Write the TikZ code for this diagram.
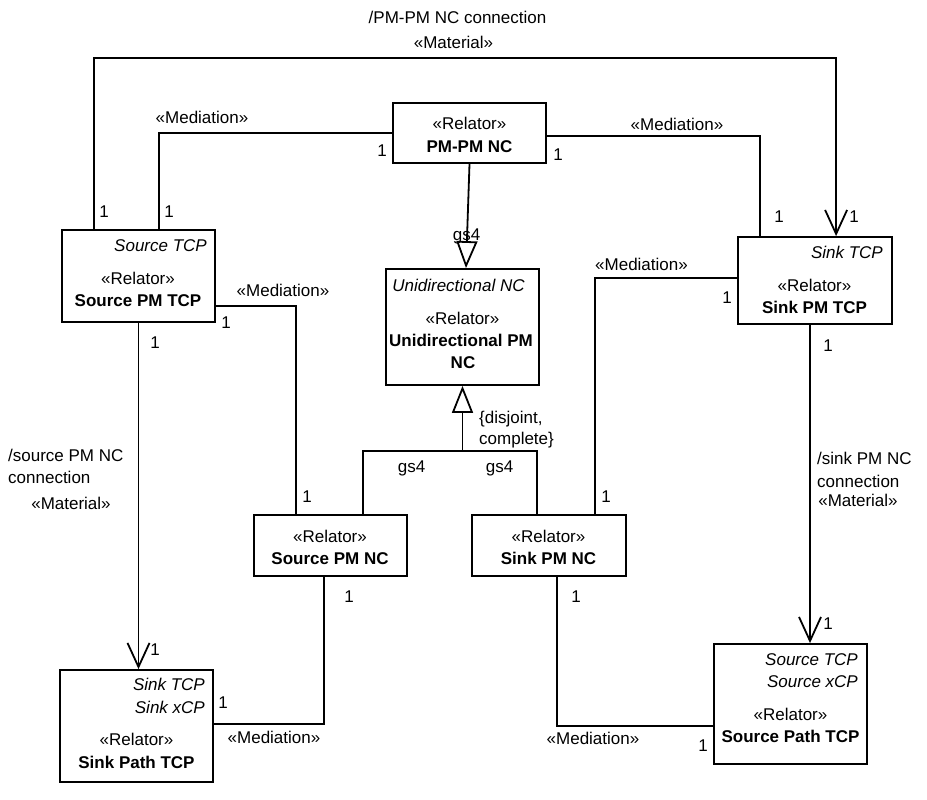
\documentclass[tikz,border=0pt]{standalone}
\usepackage{fontspec}
\setmainfont{Liberation Sans}
\usetikzlibrary{arrows.meta,calc}
\begin{document}
\begin{tikzpicture}[x=1pt,y=-1pt,
  every node/.style={inner sep=0pt, font=\fontsize{17}{20}\selectfont},
  box/.style={draw, line width=1.8pt},
  t/.style={anchor=base, yshift=-6pt},
  tl/.style={anchor=base west, yshift=-6pt},
  tr/.style={anchor=base east, yshift=-6pt},
  cname/.style={t, font=\fontsize{17}{20}\selectfont\bfseries},
  role/.style={tr, font=\fontsize{17}{20}\selectfont\itshape},
  conn/.style={line width=1.8pt},
  nav/.style={conn, -{Straight Barb[length=24pt,width=22pt]}},
  gen/.style={conn, -{Triangle[open,length=27pt,width=21pt]}},
]
\useasboundingbox[fill=white] (0,0) rectangle (927,800);

% ---------- classes ----------
\node[box, minimum width=153pt, minimum height=60pt]  (pmpm) at (469.5,133) {};
\node[box, minimum width=153pt, minimum height=92pt]  (spt)  at (138.5,276) {};
\node[box, minimum width=154pt, minimum height=87pt]  (skt)  at (815,280.5) {};
\node[box, minimum width=153pt, minimum height=116pt] (uni)  at (462.5,327) {};
\node[box, minimum width=153pt, minimum height=61pt]  (spnc) at (330.5,545.5) {};
\node[box, minimum width=154pt, minimum height=61pt]  (sknc) at (549,545.5) {};
\node[box, minimum width=153pt, minimum height=112pt] (skp)  at (136.5,726) {};
\node[box, minimum width=153pt, minimum height=120pt] (srp)  at (790.5,704) {};

% ---------- class texts ----------
\node[t]     (pmpm-s) at (469.5,123) {«Relator»};
\node[cname] (pmpm-n) at (469.5,146) {PM-PM NC};

\node[role]  (spt-r) at (207,245) {Source TCP};
\node[t]     (spt-s) at (138,278) {«Relator»};
\node[cname] (spt-n) at (138,300) {Source PM TCP};

\node[role]  (skt-r) at (883,252) {Sink TCP};
\node[t]     (skt-s) at (814.5,285) {«Relator»};
\node[cname] (skt-n) at (814.5,307) {Sink PM TCP};

\node[t, font=\fontsize{17}{20}\selectfont\itshape] (uni-r) at (458.5,285) {Unidirectional NC};
\node[t]     (uni-s)  at (462.5,318) {«Relator»};
\node[cname] (uni-n1) at (461,340) {Unidirectional PM};
\node[cname] (uni-n2) at (463,362) {NC};

\node[t]     (spnc-s) at (330,536) {«Relator»};
\node[cname] (spnc-n) at (330,558) {Source PM NC};

\node[t]     (sknc-s) at (548.5,536) {«Relator»};
\node[cname] (sknc-n) at (548.5,558) {Sink PM NC};

\node[role]  (skp-r1) at (205,684) {Sink TCP};
\node[role]  (skp-r2) at (205,707) {Sink xCP};
\node[t]     (skp-s)  at (136.5,739) {«Relator»};
\node[cname] (skp-n)  at (136.5,762) {Sink Path TCP};

\node[role]  (srp-r1) at (858,659) {Source TCP};
\node[role]  (srp-r2) at (858,681) {Source xCP};
\node[t]     (srp-s)  at (790.5,714) {«Relator»};
\node[cname] (srp-n)  at (790.5,736) {Source Path TCP};

% ---------- connectors ----------
% PM-PM NC connection (material, navigable)
\coordinate (railtop) at (0,58);
\coordinate (c1a) at ($(spt.north west)+(33,0)$);
\coordinate (c1b) at ($(skt.north west)+(99,0)$);
\draw[nav] (c1a) -- (c1a |- railtop) -| (c1b);

% mediations of PM-PM NC
\coordinate (c2b) at ($(spt.north west)+(98,0)$);
\draw[conn] (pmpm.west) -| (c2b);
\coordinate (c3a) at ($(pmpm.east)+(0,3)$);
\coordinate (c3b) at ($(skt.north west)+(23,0)$);
\draw[conn] (c3a) -| (c3b);

% PM-PM NC specialises Unidirectional PM NC
\draw[gen] (pmpm.south) -- ($(uni.north)+(3.5,0)$);

% generalisation set gs4
\coordinate (gj) at ($(uni.south)+(0,65)$);
\coordinate (g1) at ($(spnc.north west)+(110,0)$);
\coordinate (g2) at ($(sknc.north west)+(66,0)$);
\draw[conn] (g1) |- (gj) -| (g2);
\draw[gen] (gj) -- (uni.south);

% Source PM TCP -- Source PM NC
\coordinate (c6a) at ($(spt.east)+(0,30)$);
\coordinate (c6b) at ($(spnc.north west)+(43,0)$);
\draw[conn] (c6a) -| (c6b);

% source PM NC connection (material)
\draw[nav] (spt.south) -- (spt.south |- skp.north);

% Source PM NC -- Sink Path TCP
\coordinate (c8a) at ($(spnc.south west)+(71,0)$);
\coordinate (c8b) at ($(skp.east)+(0,-2)$);
\draw[conn] (c8a) |- (c8b);

% Sink PM TCP -- Sink PM NC
\coordinate (c9a) at ($(skt.west)+(0,-2.5)$);
\coordinate (c9b) at ($(sknc.north west)+(124,0)$);
\draw[conn] (c9a) -| (c9b);

% sink PM NC connection (material)
\coordinate (c10a) at ($(skt.south)+(-5,0)$);
\draw[nav] (c10a) -- (c10a |- srp.north);

% Sink PM NC -- Source Path TCP
\coordinate (c11a) at ($(sknc.south west)+(86,0)$);
\coordinate (c11b) at ($(srp.west)+(0,22)$);
\draw[conn] (c11a) |- (c11b);

% ---------- connector labels ----------
\node[t] (l1a) at (457.5,18) {/PM-PM NC connection};
\node[t] (l1b) at (453.5,43) {«Material»};
\node[t] (l2)  at (202,118) {«Mediation»};
\node[t] (l3)  at (677,125) {«Mediation»};
\node[t] (l4)  at (466.5,234) {gs4};
\node[t] (l5a) at (411.5,466) {gs4};
\node[t] (l5b) at (499.5,466) {gs4};
\node[tl] (l5c) at (479,417) {\{disjoint,};
\node[tl] (l5d) at (479,438) {complete\}};
\node[t] (l6)  at (283,290) {«Mediation»};
\node[tl] (l7a) at (8,455) {/source PM NC};
\node[tl] (l7b) at (8,477) {connection};
\node[t]  (l7c) at (71,503) {«Material»};
\node[t] (l8)  at (274,737) {«Mediation»};
\node[t] (l9)  at (641.5,264) {«Mediation»};
\node[tl] (l10a) at (817,458) {/sink PM NC};
\node[tl] (l10b) at (817,481) {connection};
\node[t]  (l10c) at (858,500) {«Material»};
\node[t] (l11) at (593,738) {«Mediation»};

% ---------- multiplicities ----------
\node[t] (m1)  at (104,211) {1};
\node[t] (m2)  at (169,211) {1};
\node[t] (m3)  at (382,151) {1};
\node[t] (m4)  at (558,154) {1};
\node[t] (m5)  at (779,216) {1};
\node[t] (m6)  at (854,216) {1};
\node[t] (m7)  at (727,297) {1};
\node[t] (m8)  at (226,322) {1};
\node[t] (m9)  at (155,342) {1};
\node[t] (m10) at (307,496) {1};
\node[t] (m11) at (349,596) {1};
\node[t] (m12) at (155,649) {1};
\node[t] (m13) at (223,702) {1};
\node[t] (m14) at (828,345) {1};
\node[t] (m15) at (606,496) {1};
\node[t] (m16) at (576,596) {1};
\node[t] (m17) at (828,623) {1};
\node[t] (m18) at (703,745) {1};
\end{tikzpicture}
\end{document}
